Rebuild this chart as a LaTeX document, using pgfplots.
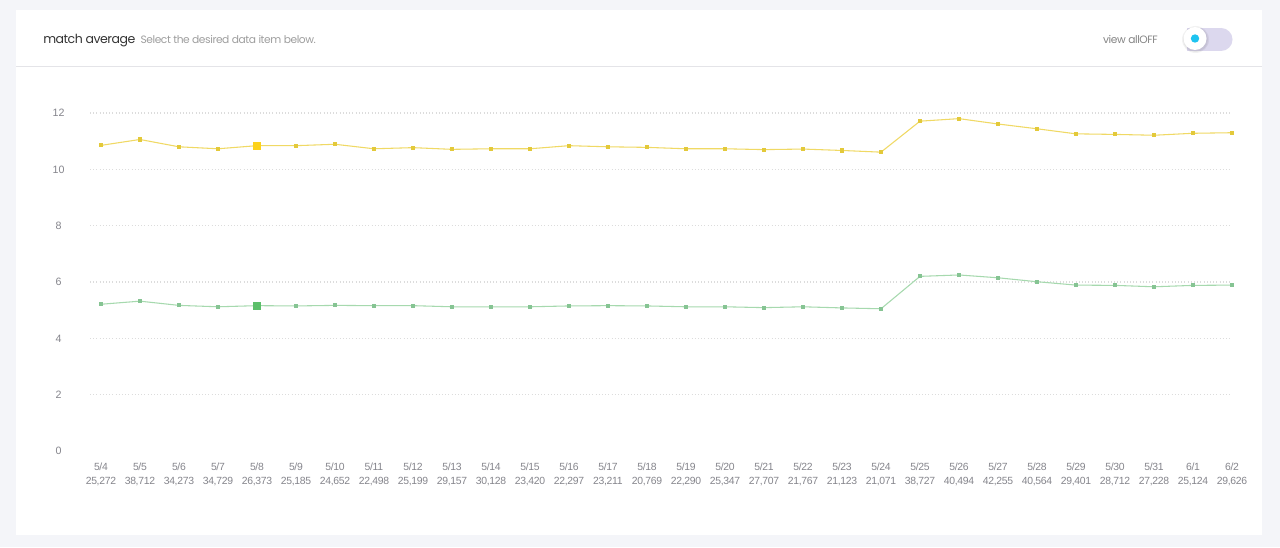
\documentclass[border=0pt]{standalone}
\usepackage{pgfplots}
\pgfplotsset{compat=1.18}
\usepackage{pgfplotstable}
\usepackage{fontspec}
\setmainfont{Liberation Sans}
\newfontfamily\titlefont{Poppins}

\definecolor{pagebg}{HTML}{F4F5F9}
\definecolor{rulegray}{HTML}{E4E4E8}
\definecolor{ticktext}{HTML}{85858C}
\definecolor{gridgray}{HTML}{DCDCDC}
\definecolor{ylwline}{HTML}{F0D964}
\definecolor{ylwmark}{HTML}{E3C93A}
\definecolor{ylwhi}{HTML}{FCD21C}
\definecolor{grnline}{HTML}{A6D9AE}
\definecolor{grnmark}{HTML}{86C493}
\definecolor{grnhi}{HTML}{5CBF6A}
\definecolor{pill}{HTML}{DCD8EE}
\definecolor{dot}{HTML}{1EC3F0}

% day index, yellow series, green series
\pgfplotstableread{
x  yel    grn
0  10.85  5.21
1  11.06  5.32
2  10.80  5.17
3  10.73  5.12
4  10.84  5.16
5  10.84  5.15
6  10.89  5.17
7  10.73  5.16
8  10.77  5.16
9  10.71  5.12
10 10.73  5.12
11 10.73  5.12
12 10.84  5.15
13 10.80  5.16
14 10.78  5.15
15 10.73  5.12
16 10.73  5.12
17 10.70  5.09
18 10.72  5.12
19 10.67  5.08
20 10.61  5.05
21 11.71  6.20
22 11.80  6.25
23 11.61  6.15
24 11.44  6.01
25 11.26  5.89
26 11.24  5.88
27 11.21  5.83
28 11.28  5.88
29 11.30  5.89
}\avgdata

\begin{document}
\begin{tikzpicture}
  % page and card, in pixel units (y upward)
  \begin{scope}[x=0.75pt,y=0.75pt]
  \fill[pagebg] (0,0) rectangle (1280,547);
  \fill[white] (16,12) rectangle (1262,537);
  \draw[rulegray, line width=0.75pt] (16,480) -- (1262,480);

  % header
  \node[anchor=base west, inner sep=0, text=black!80,
        font=\titlefont\fontsize{9.4}{12}\selectfont\addfontfeature{LetterSpace=-4}]
    (t) at (43,503) {match average};
  \node[anchor=base west, inner sep=0, text=black!38,
        font=\titlefont\fontsize{8}{10}\selectfont\addfontfeature{LetterSpace=-4}]
    at ([xshift=3.5pt]t.base east) {Select the desired data item below.};
  \node[anchor=base east, inner sep=0, text=black!48,
        font=\titlefont\fontsize{8}{10}\selectfont\addfontfeature{LetterSpace=-4}]
    at (1158,503) {view allOFF};

  % toggle
  \fill[pill] (1187,496) rectangle (1221,519);
  \fill[pill] (1221,507.5) circle (11.5);
  \fill[black, opacity=0.05] (1195.5,507.5) circle (13.5);
  \fill[black, opacity=0.05] (1195.5,507.5) circle (12.5);
  \fill[white] (1195,508.5) circle (11.5);
  \fill[dot] (1195,508.5) circle (4.2);
  \end{scope}

  \begin{axis}[
    at={(67.5pt,72pt)}, anchor=south west,
    scale only axis,
    width=856.5pt, height=253.5pt,
    xmin=-0.28, xmax=29,
    ymin=0, ymax=12,
    axis line style={draw=none},
    clip=false,
    /pgf/number format/assume math mode=true,
    xtick={0,...,29},
    xticklabels={{5/4\\25,272},{5/5\\38,712},{5/6\\34,273},{5/7\\34,729},
      {5/8\\26,373},{5/9\\25,185},{5/10\\24,652},{5/11\\22,498},{5/12\\25,199},
      {5/13\\29,157},{5/14\\30,128},{5/15\\23,420},{5/16\\22,297},{5/17\\23,211},
      {5/18\\20,769},{5/19\\22,290},{5/20\\25,347},{5/21\\27,707},{5/22\\21,767},
      {5/23\\21,123},{5/24\\21,071},{5/25\\38,727},{5/26\\40,494},{5/27\\42,255},
      {5/28\\40,564},{5/29\\29,401},{5/30\\28,712},{5/31\\27,228},{6/1\\25,124},
      {6/2\\29,626}},
    xticklabel style={align=center, inner sep=0pt, anchor=north, yshift=-8.7pt,
      text=ticktext, font=\fontsize{7.8}{10.5}\selectfont\addfontfeature{LetterSpace=-3}},
    ytick={2,4,...,12},
    extra y ticks={0},
    extra y tick style={grid=none},
    yticklabel style={anchor=center, xshift=-23.6pt, text=ticktext,
      font=\fontsize{8}{10}\selectfont},
    ymajorgrids,
    major grid style={gridgray, dotted, line width=0.8pt},
    major tick length=0pt,
  ]
    \addplot[ylwline, line width=0.8pt, mark=square*, mark size=1.15pt,
      mark options={ylwmark, draw=none}] table[x=x, y=yel] {\avgdata};
    \addplot[grnline, line width=0.8pt, mark=square*, mark size=1.15pt,
      mark options={grnmark, draw=none}] table[x=x, y=grn] {\avgdata};
    \addplot[only marks, mark=square*, mark size=2.4pt, ylwhi,
      mark options={draw=none}]
      table[x=x, y=yel, skip coords between index={0}{4},
            skip coords between index={5}{30}] {\avgdata};
    \addplot[only marks, mark=square*, mark size=2.4pt, grnhi,
      mark options={draw=none}]
      table[x=x, y=grn, skip coords between index={0}{4},
            skip coords between index={5}{30}] {\avgdata};
  \end{axis}
\end{tikzpicture}
\end{document}
